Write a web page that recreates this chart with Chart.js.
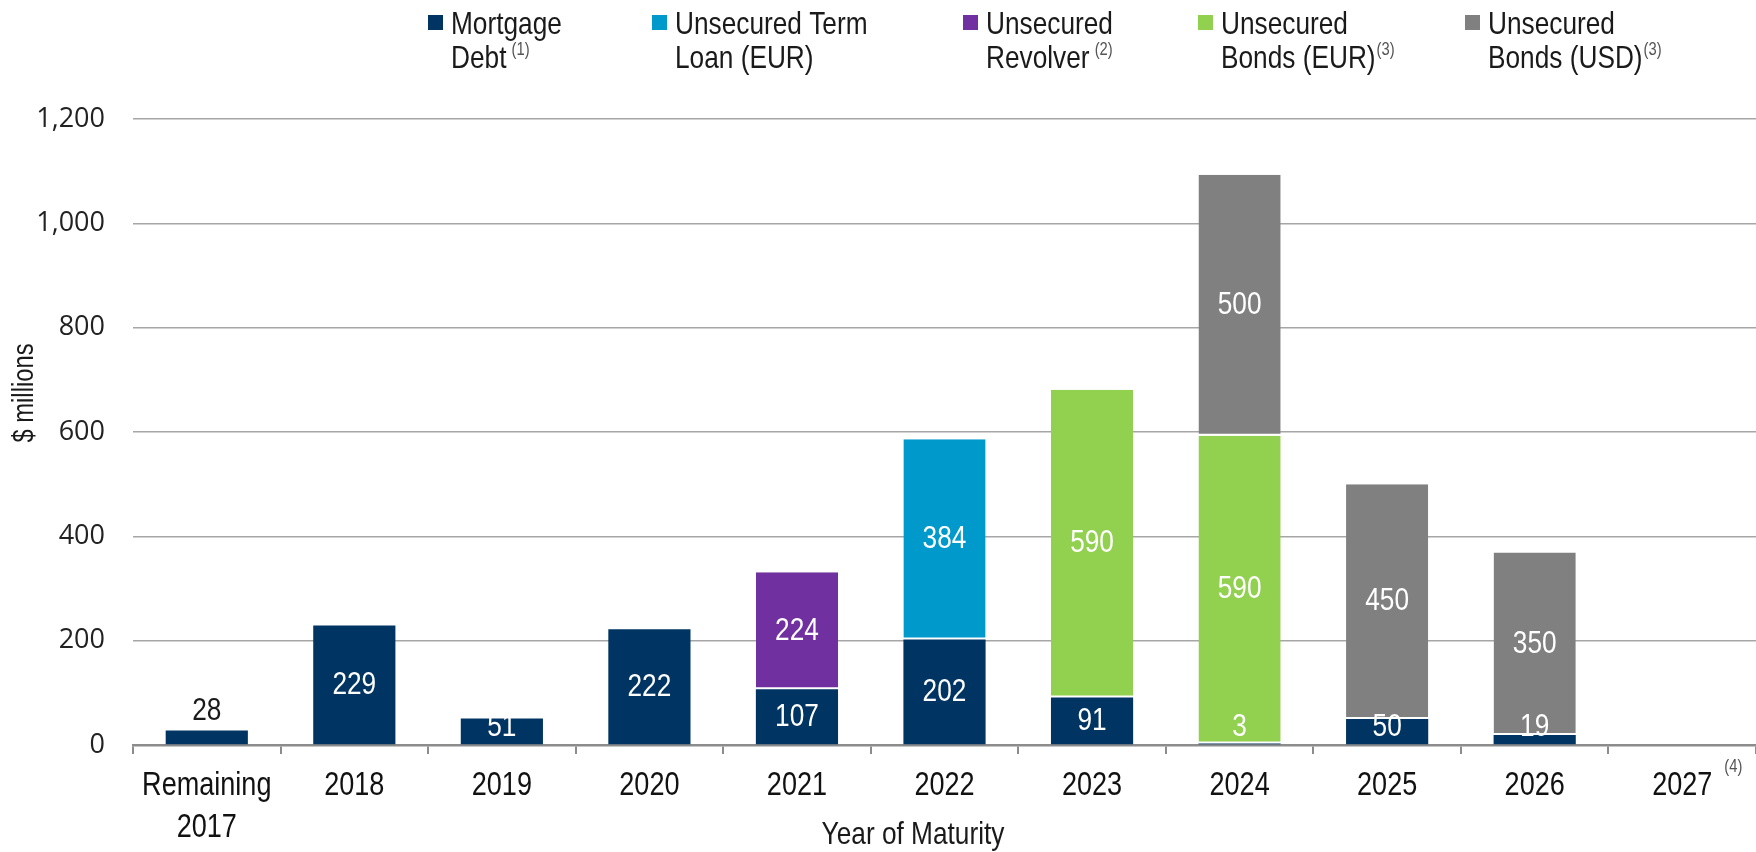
<!DOCTYPE html>
<html><head><meta charset="utf-8">
<script src="https://cdn.jsdelivr.net/npm/chart.js@4.4.1/dist/chart.umd.min.js"></script>
<style>html,body{margin:0;padding:0;background:#fff;overflow:hidden}</style>
</head><body>
<canvas id="c" width="1756" height="852"></canvas>
<script>
// ---- data ----
const categories = [['Remaining','2017'],'2018','2019','2020','2021','2022','2023','2024','2025','2026','2027'];
const categoryNotes = ['','','','','','','','','','','(4)'];
const mortgageDebt = [28,229,51,222,107,202,91,3,50,19,null];
const termLoanEUR  = [null,null,null,null,null,384,null,null,null,null,null];
const revolver     = [null,null,null,null,224,null,null,null,null,null,null];
const bondsEUR     = [null,null,null,null,null,null,590,590,null,null,null];
const bondsUSD     = [null,null,null,null,null,null,null,500,450,350,null];
const seriesNames = [['Mortgage','Debt'],['Unsecured Term','Loan (EUR)'],['Unsecured','Revolver'],['Unsecured','Bonds (EUR)'],['Unsecured','Bonds (USD)']];
const seriesNotes = [' (1)','',' (2)','(3)','(3)'];
const yTickValues = [0,200,400,600,800,1000,1200];
const yTitle = '$ millions';
const xTitle = 'Year of Maturity';

// ---- styles ----
const colors = ['#003462','#0099CC','#7030A0','#92D050','#808080'];
const SANS = "'Liberation Sans',Arial,sans-serif";
const SQUEEZE = 0.82;
const legendX = [428, 652, 963, 1198, 1465];

const seriesData = [mortgageDebt, termLoanEUR, revolver, bondsEUR, bondsUSD];

function narrowText(ctx, text, x, y, size, align, baseline, color) {
  ctx.save();
  ctx.font = `${size}px ${SANS}`;
  ctx.textAlign = align;
  ctx.textBaseline = baseline;
  ctx.fillStyle = color;
  ctx.translate(x, y);
  ctx.scale(SQUEEZE, 1);
  ctx.fillText(text, 0, 0);
  ctx.restore();
}
function narrowWidth(ctx, text, size) {
  ctx.save();
  ctx.font = `${size}px ${SANS}`;
  const w = ctx.measureText(text).width * SQUEEZE;
  ctx.restore();
  return w;
}

const datasets = seriesData.map((d, i) => ({
  label: seriesNames[i].join(' '),
  data: d,
  backgroundColor: colors[i],
  borderColor: '#ffffff',
  borderWidth: i === 0 ? 0 : {top:0,left:0,right:0,bottom:2},
  borderSkipped: false,
  categoryPercentage: 1.0,
  barPercentage: 0.557
}));

const valueLabels = {
  id: 'valueLabels',
  afterDatasetsDraw(chart) {
    const ctx = chart.ctx;
    chart.data.datasets.forEach((ds, di) => {
      const meta = chart.getDatasetMeta(di);
      meta.data.forEach((bar, i) => {
        const v = ds.data[i];
        if (v == null) return;
        const segs = chart.data.datasets.filter(d => d.data[i] != null).length;
        const top = Math.min(bar.y, bar.base), bottom = Math.max(bar.y, bar.base);
        let y = (top + bottom) / 2, color = '#ffffff';
        if (segs === 1 && bottom - top < 20) { y = top - 19; color = '#1a1a1a'; }
        else if (di === 0) y = Math.min(y, bottom - 17);
        narrowText(ctx, String(v), bar.x, y, 32, 'center', 'middle', color);
      });
    });
  }
};

const decorations = {
  id: 'decorations',
  afterDraw(chart) {
    const ctx = chart.ctx;
    // legend
    seriesNames.forEach((lines, i) => {
      const x = legendX[i];
      ctx.fillStyle = colors[i];
      ctx.fillRect(x, 15, 15, 15);
      narrowText(ctx, lines[0], x + 23, 34, 32, 'left', 'alphabetic', '#1a1a1a');
      narrowText(ctx, lines[1], x + 23, 68, 32, 'left', 'alphabetic', '#1a1a1a');
      if (seriesNotes[i]) {
        const w = narrowWidth(ctx, lines[1], 32);
        narrowText(ctx, seriesNotes[i], x + 23 + w + 1, 55, 18, 'left', 'alphabetic', '#555');
      }
    });
    // category labels and notes
    const xs = chart.scales.x;
    categories.forEach((c, i) => {
      const cx = xs.getPixelForValue(i);
      const lines = Array.isArray(c) ? c : [c];
      lines.forEach((t, k) => narrowText(ctx, t, cx, 786 + k * 42, 33, 'center', 'middle', '#111'));
      const note = categoryNotes[i];
      if (note) {
        const w = narrowWidth(ctx, lines[0], 33);
        narrowText(ctx, note, cx + w / 2 + 12, 767, 18, 'left', 'middle', '#555');
      }
    });
    // axis titles
    narrowText(ctx, xTitle, 913, 835, 32, 'center', 'middle', '#1a1a1a');
    ctx.save();
    ctx.translate(25, 393);
    ctx.rotate(-Math.PI / 2);
    narrowText(ctx, yTitle, 0, 0, 29, 'center', 'middle', '#1a1a1a');
    ctx.restore();
  }
};

new Chart(document.getElementById('c'), {
  type: 'bar',
  data: { labels: categories, datasets },
  options: {
    responsive: false,
    devicePixelRatio: 1,
    animation: false,
    layout: { padding: { top: 119, left: 0, right: 0, bottom: 0 } },
    plugins: { legend: { display: false }, tooltip: { enabled: false } },
    scales: {
      x: {
        stacked: true,
        afterFit: s => { s.height = 107; },
        border: { display: true, color: '#8c8c8c', width: 2.5 },
        grid: { display: true, drawOnChartArea: false, drawTicks: true, tickLength: 9, color: '#8c8c8c', lineWidth: 2, offset: true },
        ticks: { display: false }
      },
      y: {
        stacked: true,
        min: 0, max: 1200,
        afterFit: s => { s.width = 133; },
        afterBuildTicks: s => { s.ticks = yTickValues.map(v => ({ value: v })); },
        border: { display: false },
        grid: { color: '#a6a6a6', lineWidth: 1.5, drawTicks: false },
        ticks: { color: '#222', padding: 28, font: { family: "'Open Sans','Noto Sans',sans-serif", size: 27 },
                 callback: v => v.toLocaleString('en-US') }
      }
    }
  },
  plugins: [valueLabels, decorations]
});
</script>
</body></html>
